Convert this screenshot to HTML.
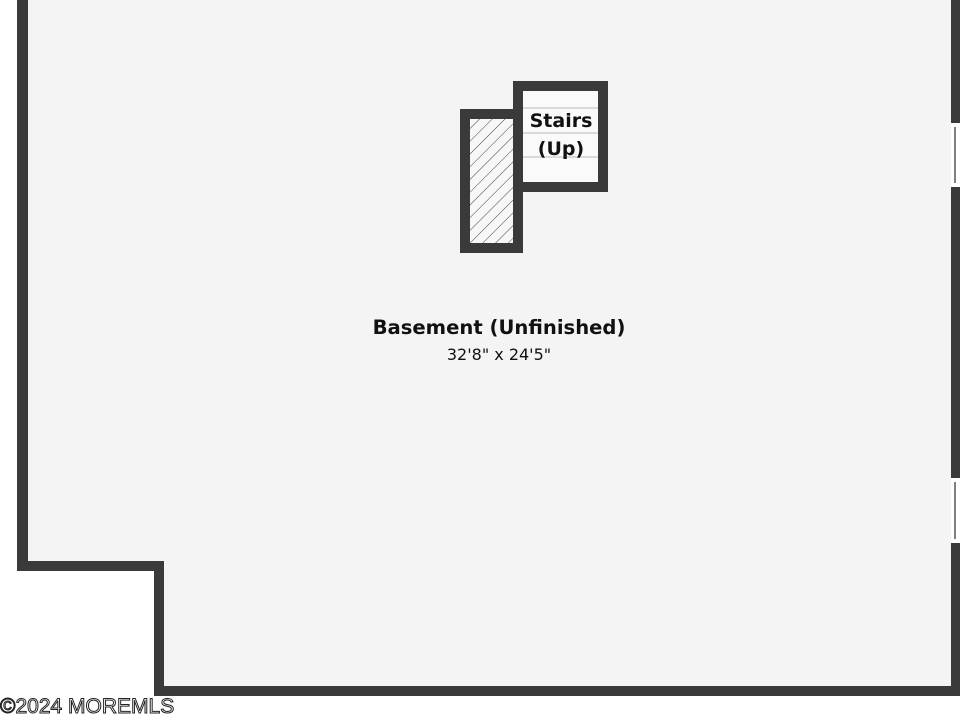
<!DOCTYPE html>
<html><head><style>
body{margin:0;width:960px;height:720px;background:#fff;overflow:hidden;font-family:"Liberation Sans",sans-serif}
</style></head><body>
<svg width="960" height="720" xmlns="http://www.w3.org/2000/svg">
<defs>
<pattern id="h" width="9" height="9" patternUnits="userSpaceOnUse" patternTransform="rotate(45)">
<rect width="9" height="9" fill="#f7f7f7"/><line x1="0" y1="0" x2="0" y2="9" stroke="#444" stroke-width="1"/>
</pattern>
</defs>
<polygon points="17,0 960,0 960,696 154,696 154,571 17,571" fill="#3a3a3a"/>
<polygon points="28,0 951,0 951,686 164,686 164,561 28,561" fill="#f4f4f4"/>
<rect x="951" y="123" width="9" height="64" fill="#fff"/>
<line x1="955" y1="127" x2="955" y2="183" stroke="#555" stroke-width="1.5"/>
<rect x="951" y="478" width="9" height="65" fill="#fff"/>
<line x1="955" y1="482" x2="955" y2="539" stroke="#555" stroke-width="1.5"/>
<rect x="460" y="109" width="63" height="144" fill="#3a3a3a"/>
<rect x="470" y="119" width="43" height="124" fill="url(#h)"/>
<rect x="513" y="81" width="95" height="111" fill="#3a3a3a"/>
<rect x="523" y="91" width="75" height="91" fill="#fafafa"/>
<line x1="523" y1="108" x2="598" y2="108" stroke="#bbb"/>
<line x1="523" y1="133" x2="598" y2="133" stroke="#bbb"/>
<line x1="523" y1="157" x2="598" y2="157" stroke="#bbb"/>
<g font-family="'DejaVu Sans','Liberation Sans',sans-serif" font-weight="bold" fill="#111" text-anchor="middle">
<text x="561" y="127" font-size="19">Stairs</text>
<text x="561" y="155" font-size="19">(Up)</text>
<text x="499" y="334" font-size="19.6">Basement (Unfinished)</text>
<text x="499" y="360" font-size="16" font-weight="normal">32'8" x 24'5"</text>
</g>
<text x="0" y="713" font-size="21" fill="#fff" stroke="#222" stroke-width="1" font-family="'Liberation Sans',sans-serif">©2024 MOREMLS</text>
</svg>
</body></html>
